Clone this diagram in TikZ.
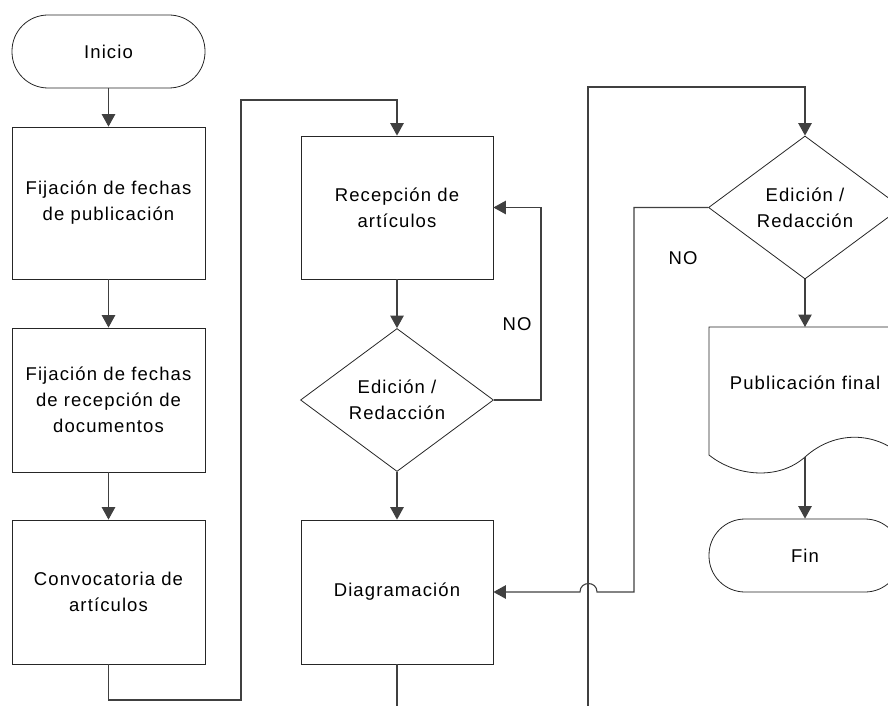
\documentclass[tikz,border=0pt]{standalone}
\usepackage{fontspec}
\setmainfont{Liberation Sans}[LetterSpace=6]
\usetikzlibrary{arrows.meta,shapes.geometric}
\begin{document}
\begin{tikzpicture}[x=1pt,y=-1pt,
  every node/.style={font=\fontsize{18.5}{26}\selectfont, align=center, inner sep=0pt},
  outline/.style={draw=black!85, line width=0.8pt},
  proc/.style={outline, minimum width=193pt},
  term/.style={outline, rounded corners=36pt, minimum width=193pt, minimum height=73pt},
  decis/.style={diamond, outline, shape aspect=1.35, minimum width=193pt, minimum height=143pt},
  conn/.style={draw=black!75, line width=1.1pt},
  arr/.style={conn, -{Triangle[length=12.5pt,width=13.5pt]}}
]
\useasboundingbox (0,0) rectangle (888,706);
\clip (0,0) rectangle (888,706);

% first column
\node[term] (inicio) at (108.5,51.5) {Inicio};
\node[proc, minimum height=152pt] (b1) at (108.5,203) {Fijación de fechas\\de publicación};
\node[proc, minimum height=144pt] (b2) at (108.5,400) {Fijación de fechas\\de recepción de\\documentos};
\node[proc, minimum height=144pt] (b3) at (108.5,592) {Convocatoria de\\artículos};

% second column
\node[proc, minimum width=192pt, minimum height=143pt] (rec) at (397,207.5) {Recepción de\\artículos};
\node[decis] (d2) at (397,400) {Edición /\\Redacción};
\node[proc, minimum width=192pt, minimum height=144pt] (diag) at (397,592) {Diagramación};

% third column
\node[decis] (d3) at (805,207.5) {Edición /\\Redacción};
\draw[outline] (709,327) -- (901,327) -- (901,455)
  .. controls (875,432) and (835,430) .. (805,457)
  .. controls (778,481) and (735,476) .. (709,455) -- cycle;
\coordinate (doctop) at (805,327);
\coordinate (docbot) at (805,457);
\node (pub) at (805,383) {Publicación final};
\node[term, minimum width=192pt] (fin) at (805,555.5) {Fin};

% connectors
\draw[arr] (inicio) -- (b1);
\draw[arr] (b1) -- (b2);
\draw[arr] (b2) -- (b3);

\coordinate (c1) at (241,700);
\coordinate (c2) at (241,100);
\draw[arr] (b3.south) |- (c1) -- (c2) -| (rec.north);

\draw[arr] (rec) -- (d2);
\draw[arr] (d2) -- (diag);

\coordinate (c3) at (541,400);
\draw[arr] (d2.east) -- (c3) |- (rec.east);
\node (no1) at (517,324) {NO};

\coordinate (c5) at (397,740);
\coordinate (c6) at (588,740);
\coordinate (c7) at (588,87);
\draw[arr] (diag.south) -- (c5) -- (c6) -- (c7) -| (d3.north);

\coordinate (c8) at (634,592);
\coordinate (h1) at (597,592);
\coordinate (h2) at (580,592);
\draw[arr] (d3.west) -| (c8) -- (h1)
  .. controls +(0,-11.3) and +(0,-11.3) .. (h2) -- (diag.east);
\node (no2) at (683,258) {NO};

\draw[arr] (d3.south) -- (doctop);
\draw[arr] (docbot) -- (fin);
\end{tikzpicture}
\end{document}
